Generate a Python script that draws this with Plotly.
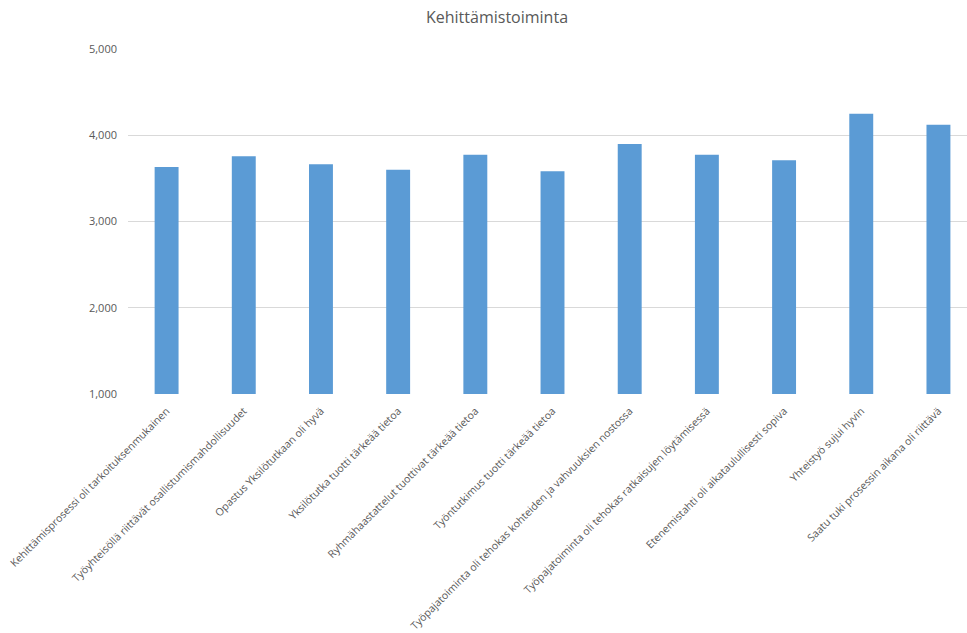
import plotly.graph_objects as go

categories = [
    "Kehittämisprosessi oli tarkoituksenmukainen",
    "Työyhteisöllä riittävät osallistumismahdollisuudet",
    "Opastus Yksilötutkaan oli hyvä",
    "Yksilötutka tuotti tärkeää tietoa",
    "Ryhmähaastattelut tuottivat tärkeää tietoa",
    "Työntutkimus tuotti tärkeää tietoa",
    "Työpajatoiminta oli tehokas kohteiden ja vahvuuksien nostossa",
    "Työpajatoiminta oli tehokas ratkaisujen löytämisessä",
    "Etenemistahti oli aikataulullisesti sopiva",
    "Yhteistyö sujui hyvin",
    "Saatu tuki prosessin aikana oli riittävä",
]
values = [3.633, 3.757, 3.665, 3.599, 3.773, 3.583, 3.900, 3.773, 3.711, 4.248, 4.121]
title_text = "Kehittämistoiminta"
y_ticks = [1, 2, 3, 4, 5]
axis_min = 1

fig = go.Figure(
    go.Bar(
        x=categories,
        y=[v - axis_min for v in values],
        base=axis_min,
        marker=dict(color="#5B9BD5", line=dict(width=0)),
        width=0.31,
        customdata=values,
        hovertemplate="%{x}: %{customdata:.3f}<extra></extra>",
    )
)

fig.update_layout(
    width=967,
    height=633,
    autosize=False,
    margin=dict(l=128, r=0, t=49, b=239),
    paper_bgcolor="white",
    plot_bgcolor="white",
    separators=",.",
    showlegend=False,
    title=dict(
        text=title_text,
        x=497 / 967,
        xanchor="center",
        xref="container",
        y=0.973,
        yanchor="middle",
        yref="container",
        font=dict(family="Open Sans", size=16, color="#595959"),
    ),
    font=dict(family="Open Sans", color="#595959"),
)

fig.update_xaxes(
    type="category",
    range=[-0.5, 10.37],
    tickangle=-45,
    tickfont=dict(family="Open Sans", size=10.5, color="#595959"),
    showgrid=False,
    showline=False,
    ticks="",
    zeroline=False,
    ticklabelstandoff=8,
    automargin=False,
)
fig.update_yaxes(
    range=[1, 5],
    tickvals=y_ticks,
    tickformat=".3f",
    tickfont=dict(family="Open Sans", size=11, color="#595959"),
    showgrid=True,
    gridcolor="#d9d9d9",
    gridwidth=1,
    zeroline=False,
    showline=False,
    ticks="",
    ticklabelstandoff=10,
    automargin=False,
)

fig.write_html("out.html")
